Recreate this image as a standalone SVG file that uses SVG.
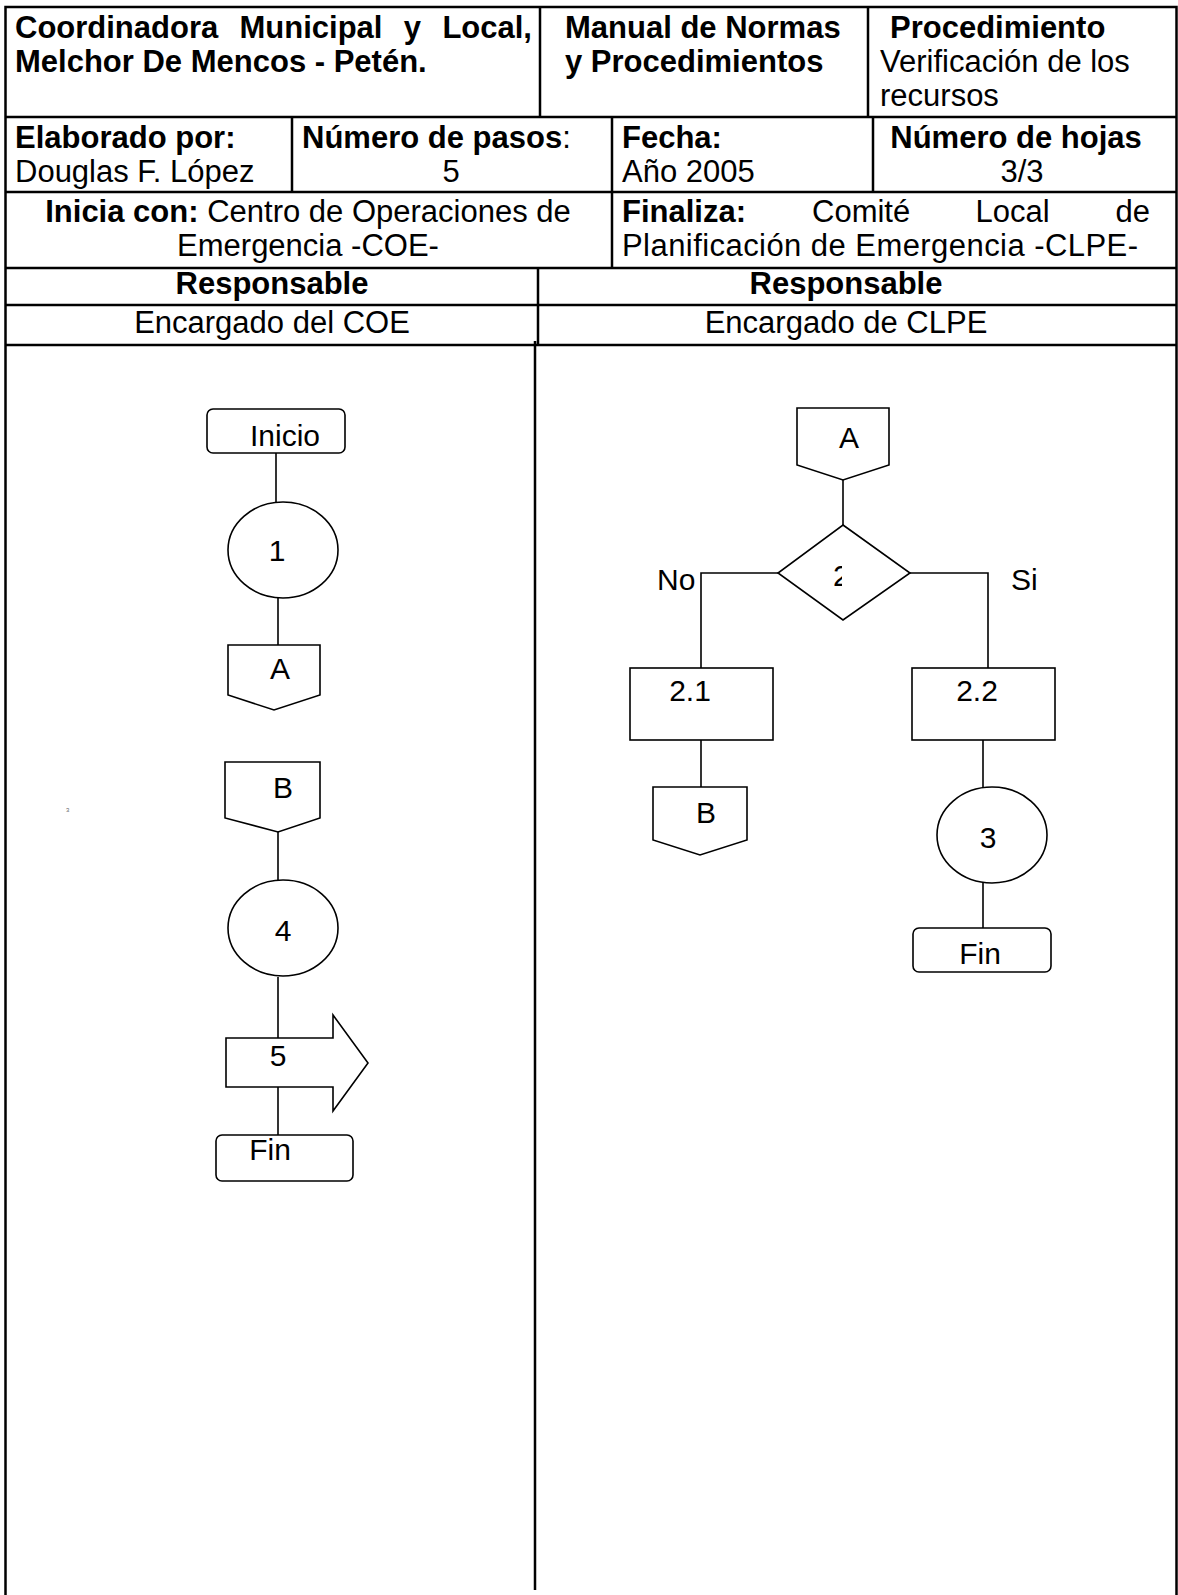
<svg xmlns="http://www.w3.org/2000/svg" width="1178" height="1595" viewBox="0 0 1178 1595">
<style>
text{font-family:"Liberation Sans",Arial,sans-serif;font-size:31px;fill:#000}
.b{font-weight:bold}
.tb{stroke:#000;stroke-width:2.5;fill:none}
.sh{stroke:#000;stroke-width:1.6;fill:#fff}
.cn{stroke:#000;stroke-width:1.6;fill:none}
.fc{font-size:30px}
</style>
<defs>
<clipPath id="clip2"><rect x="820" y="555" width="22" height="40"/></clipPath>
</defs>
<rect width="1178" height="1595" fill="#fff"/>
<g id="table">
<path class="tb" d="M5.5,1595V7H1176.5V1595"/>
<path class="tb" d="M5.5,117H1176.5M5.5,192H1176.5M5.5,268H1176.5M5.5,305H1176.5M5.5,345H1176.5"/>
<path class="tb" d="M540,7V117M868,7V117M292,117V192M612,117V268M873,117V192M538,268V345M535,341V1590"/>
<text class="b" x="15" y="38">Coordinadora</text>
<text class="b" x="239.5" y="38">Municipal</text>
<text class="b" x="403.8" y="38">y</text>
<text class="b" x="532" y="38" text-anchor="end">Local,</text>
<text class="b" x="15" y="72">Melchor De Mencos - Petén.</text>
<text class="b" x="565" y="38">Manual de Normas</text>
<text class="b" x="565" y="72">y Procedimientos</text>
<text class="b" x="890" y="38">Procedimiento</text>
<text x="880" y="72">Verificación de los</text>
<text x="880" y="106">recursos</text>
<text class="b" x="15" y="148">Elaborado por:</text>
<text x="15" y="182">Douglas F. López</text>
<text x="302" y="148"><tspan class="b">Número de pasos</tspan>:</text>
<text x="451" y="182" text-anchor="middle">5</text>
<text class="b" x="622" y="148">Fecha:</text>
<text x="622" y="182">Año 2005</text>
<text class="b" x="1016" y="148" text-anchor="middle">Número de hojas</text>
<text x="1022" y="182" text-anchor="middle">3/3</text>
<text x="308" y="222" text-anchor="middle"><tspan class="b">Inicia con:</tspan> Centro de Operaciones de</text>
<text x="308" y="256" text-anchor="middle">Emergencia -COE-</text>
<text class="b" x="622" y="222">Finaliza:</text>
<text x="812" y="222">Comité</text>
<text x="975.5" y="222">Local</text>
<text x="1150" y="222" text-anchor="end">de</text>
<text x="622" y="256" textLength="516" lengthAdjust="spacing">Planificación de Emergencia -CLPE-</text>
<text class="b" x="272" y="294" text-anchor="middle">Responsable</text>
<text class="b" x="846" y="294" text-anchor="middle">Responsable</text>
<text x="272" y="333" text-anchor="middle">Encargado del COE</text>
<text x="846" y="333" text-anchor="middle">Encargado de CLPE</text>
</g>
<g id="connectors">
<path class="cn" d="M276,453V502"/>
<path class="cn" d="M278,598V645"/>
<path class="cn" d="M278,832V880"/>
<path class="cn" d="M278,977V1038"/>
<path class="cn" d="M278,1087V1135"/>
<path class="cn" d="M843,480V525"/>
<path class="cn" d="M778,573H701V668"/>
<path class="cn" d="M910,573H988V668"/>
<path class="cn" d="M701,740V787"/>
<path class="cn" d="M983,740V787"/>
<path class="cn" d="M983,883V928"/>
<text class="fc" x="657" y="590">No</text>
<text class="fc" x="1011" y="590">Si</text>
</g>
<g id="n-inicio">
<rect class="sh" x="207" y="409" width="138" height="44" rx="6"/>
<text class="fc" x="285" y="446" text-anchor="middle">Inicio</text>
</g>
<g id="n-1">
<ellipse class="sh" cx="283" cy="550" rx="55" ry="48"/>
<text class="fc" x="277" y="561" text-anchor="middle">1</text>
</g>
<g id="n-a-left">
<path class="sh" d="M228,645H320V695L274,710L228,695Z"/>
<text class="fc" x="280" y="679" text-anchor="middle">A</text>
</g>
<g id="n-b-left">
<path class="sh" d="M225,762H320V818L278,832L225,818Z"/>
<text class="fc" x="283" y="798" text-anchor="middle">B</text>
</g>
<g id="n-4">
<ellipse class="sh" cx="283" cy="928" rx="55" ry="48"/>
<text class="fc" x="283" y="941" text-anchor="middle">4</text>
</g>
<g id="n-5">
<path class="sh" d="M226,1038H333V1015L368,1063L333,1111V1087H226Z"/>
<text class="fc" x="278" y="1066" text-anchor="middle">5</text>
</g>
<g id="n-fin-left">
<rect class="sh" x="216" y="1135" width="137" height="46" rx="6"/>
<text class="fc" x="270" y="1160" text-anchor="middle">Fin</text>
</g>
<g id="n-a-right">
<path class="sh" d="M797,408H889V465L843,480L797,465Z"/>
<text class="fc" x="849" y="448" text-anchor="middle">A</text>
</g>
<g id="n-2">
<path class="sh" d="M843,525L910,573L843,620L778,573Z"/>
<text class="fc" x="833" y="586" clip-path="url(#clip2)">2</text>
</g>
<g id="n-2-1">
<rect class="sh" x="630" y="668" width="143" height="72"/>
<text class="fc" x="690" y="701" text-anchor="middle">2.1</text>
</g>
<g id="n-b-right">
<path class="sh" d="M653,787H747V840L700,855L653,840Z"/>
<text class="fc" x="706" y="823" text-anchor="middle">B</text>
</g>
<g id="n-2-2">
<rect class="sh" x="912" y="668" width="143" height="72"/>
<text class="fc" x="977" y="701" text-anchor="middle">2.2</text>
</g>
<g id="n-3">
<ellipse class="sh" cx="992" cy="835" rx="55" ry="48"/>
<text class="fc" x="988" y="848" text-anchor="middle">3</text>
</g>
<g id="n-fin-right">
<rect class="sh" x="913" y="928" width="138" height="44" rx="6"/>
<text class="fc" x="980" y="964" text-anchor="middle">Fin</text>
</g>
<text x="66" y="812" style="font-size:6px;fill:#666">3</text>
</svg>
